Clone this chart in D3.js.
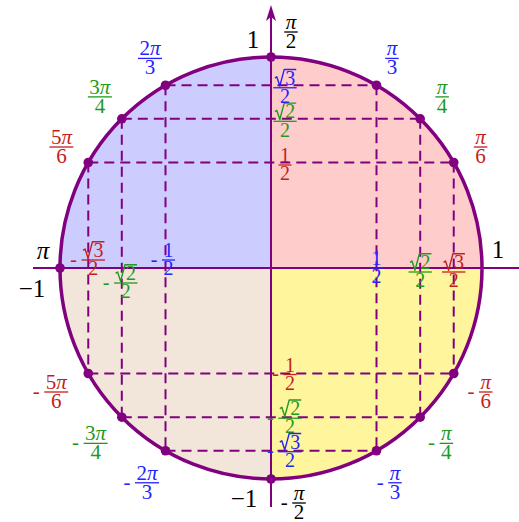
<!DOCTYPE html>
<html>
<head>
<meta charset="utf-8">
<script src="https://cdn.jsdelivr.net/npm/d3@7"></script>
<style>
  body { margin: 0; background: #fff; }
  svg { display: block; }
  text { font-family: "Liberation Serif", "DejaVu Serif", serif; }
</style>
</head>
<body>
<div id="unit_circle"></div>
<script>
// special angles (degrees) that get a dot on the circle
var dotAngles = [90, 60, 45, 30, 120, 135, 150, 180, -30, -45, -60, -90, -120, -135, -150];

// angle labels round the circle
var labelAngles = [90, 60, 45, 30, 120, 135, 150, -90, -60, -45, -30, -120, -135, -150];
var labelNums = ["π", "π", "π", "π", "2π", "3π", "5π", "π", "π", "π", "π", "2π", "3π", "5π"];
var labelDens = ["2", "3", "4", "6", "3", "4", "6", "2", "3", "4", "6", "3", "4", "6"];

// sin / cos values of the first quadrant angles
var coordVals = [0.5, Math.SQRT2 / 2, Math.sqrt(3) / 2];
var coordNums = ["1", "√2", "√3"];
var coordDens = ["2", "2", "2"];

// quadrant fills, counter clockwise from the first one
var quadrantColors = ["#ffcccc", "#ccccff", "#f2e6da", "#fff59c"];

var purple = "#800080";
var denColor = { "2": "#000", "3": "#2323ff", "4": "#1f9a1f", "6": "#c41e1e" };

var width = 519, height = 522;
var cx = 271, cy = 268, R = 211;

var svg = d3.select("#unit_circle").append("svg")
  .attr("width", width).attr("height", height);

var x = d3.scaleLinear().domain([-1, 1]).range([cx - R, cx + R]);
var y = d3.scaleLinear().domain([-1, 1]).range([cy + R, cy - R]);

var rad = function (d) { return d * Math.PI / 180; };

// quadrant sectors
var arc = d3.arc().innerRadius(0).outerRadius(R);
svg.append("g").attr("transform", "translate(" + cx + "," + cy + ")")
  .selectAll("path").data(quadrantColors).enter().append("path")
  .attr("d", function (d, i) {
    // d3.arc angles go clockwise from 12 o'clock
    return arc({ startAngle: Math.PI / 2 - (i + 1) * Math.PI / 2, endAngle: Math.PI / 2 - i * Math.PI / 2 });
  })
  .attr("fill", function (d) { return d; });

// dashed guide lines
var guides = svg.append("g").attr("stroke", purple).attr("stroke-width", 2)
  .attr("stroke-dasharray", "10,6").attr("fill", "none");
coordVals.forEach(function (v) {
  [v, -v].forEach(function (s) {
    // horizontal line at y = s, between the two points with that sine
    var c = Math.sqrt(1 - s * s);
    guides.append("line").attr("x1", x(-c)).attr("x2", x(c)).attr("y1", y(s)).attr("y2", y(s));
    // vertical line at x = s
    guides.append("line").attr("x1", x(s)).attr("x2", x(s)).attr("y1", y(c)).attr("y2", y(-c));
  });
});

// axes
svg.append("line").attr("x1", 33).attr("x2", width).attr("y1", cy).attr("y2", cy)
  .attr("stroke", purple).attr("stroke-width", 2);
svg.append("line").attr("x1", cx).attr("x2", cx).attr("y1", 507).attr("y2", 12)
  .attr("stroke", purple).attr("stroke-width", 2);
svg.append("path")
  .attr("d", "M" + cx + ",5 L" + (cx - 5) + ",21 L" + cx + ",17 L" + (cx + 5) + ",21 Z")
  .attr("fill", purple);

// the circle
svg.append("circle").attr("cx", cx).attr("cy", cy).attr("r", R)
  .attr("fill", "none").attr("stroke", purple).attr("stroke-width", 3.5);

// dots
svg.append("g").selectAll("circle").data(dotAngles).enter().append("circle")
  .attr("cx", function (d) { return x(Math.cos(rad(d))); })
  .attr("cy", function (d) { return y(Math.sin(rad(d))); })
  .attr("r", 4.8).attr("fill", purple);

// draws a stacked fraction centred on (fx, barY)
function drawFrac(fx, barY, num, den, color, neg, size) {
  var g = svg.append("g").attr("fill", color);
  var base = barY - 3;
  var isRoot = num.charAt(0) === "√";
  var digits = isRoot ? num.slice(1) : num;
  var nt = g.append("text").attr("y", base).attr("font-size", size);
  digits.split("").forEach(function (ch) {
    nt.append("tspan").text(ch).attr("font-style", ch === "π" ? "italic" : null);
  });
  var nw = nt.node().getComputedTextLength();
  var rw = isRoot ? size * 0.52 : 0;
  var left = fx - (nw + rw) / 2;
  nt.attr("x", left + rw);
  if (isRoot) {
    var top = base - size * 0.76;
    var p = d3.path();
    p.moveTo(left, base - size * 0.33);
    p.lineTo(left + size * 0.1, base - size * 0.4);
    p.lineTo(left + size * 0.25, base + size * 0.06);
    p.lineTo(left + rw - 1, top);
    p.lineTo(left + rw + nw + 1, top);
    g.append("path").attr("d", p.toString()).attr("fill", "none")
      .attr("stroke", color).attr("stroke-width", 1.4).attr("stroke-linejoin", "round");
  }
  var dt = g.append("text").attr("x", fx).attr("y", barY + size * 0.76)
    .attr("text-anchor", "middle").attr("font-size", size).text(den);
  var w = Math.max(nw + rw, dt.node().getComputedTextLength()) + 3;
  g.append("line").attr("x1", fx - w / 2).attr("x2", fx + w / 2)
    .attr("y1", barY).attr("y2", barY).attr("stroke", color).attr("stroke-width", 1.3);
  if (neg) {
    g.append("text").attr("x", fx - w / 2 - 8).attr("y", barY + size * 0.28)
      .attr("text-anchor", "middle").attr("font-size", size).text("-");
  }
}

// angle labels
labelAngles.forEach(function (a, i) {
  var t = rad(a);
  var r = a < 0 ? 248 : 242;
  var lx = cx + r * Math.cos(t), ly = cy - r * Math.sin(t);
  if (Math.abs(a) === 90) {
    lx = cx + (a > 0 ? 20 : 28);
    ly = a > 0 ? 32 : 503;
  }
  drawFrac(lx, ly, labelNums[i], labelDens[i], denColor[labelDens[i]], a < 0, 21);
});

// sine values on the vertical axis
var sinColors = ["6", "4", "3"];
coordVals.forEach(function (v, i) {
  var col = denColor[sinColors[i]];
  drawFrac(cx + 14, y(v) + 2.5, coordNums[i], coordDens[i], col, false, 20);
  drawFrac(cx + 19, y(-v) + 1, coordNums[i], coordDens[i], col, true, 20);
});

// cosine values on the horizontal axis
var cosColors = ["3", "4", "6"];
var posBar = [0, 4, 4], negBar = [-8, 15, -8], negShift = [3, 4, 5];
coordVals.forEach(function (v, i) {
  var col = denColor[cosColors[i]];
  drawFrac(x(v), cy + posBar[i], coordNums[i], coordDens[i], col, false, 20);
  drawFrac(x(-v) + negShift[i], cy + negBar[i], coordNums[i], coordDens[i], col, true, 20);
});

// axis end labels
var big = svg.append("g").attr("font-size", 25).attr("fill", "#000").attr("text-anchor", "middle");
big.append("text").attr("x", cx - 18).attr("y", y(1) - 9).text("1");
big.append("text").attr("x", x(1) + 16).attr("y", cy - 10).text("1");
big.append("text").attr("x", x(-1) - 17).attr("y", cy - 9).attr("font-style", "italic").text("π");
big.append("text").attr("x", x(-1) - 28).attr("y", cy + 29).text("−1");
big.append("text").attr("x", cx - 27).attr("y", y(-1) + 28).text("−1");
</script>
</body>
</html>
